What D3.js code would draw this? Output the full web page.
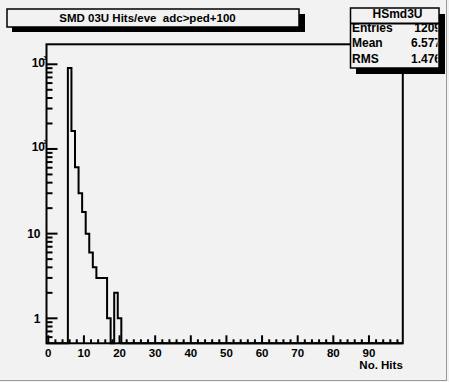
<!DOCTYPE html>
<html><head><meta charset="utf-8">
<script src="https://cdn.jsdelivr.net/npm/d3@7"></script>
<style>
html,body{margin:0;padding:0;background:#f2f2f2;}
text{font-family:"Liberation Sans",Arial,Helvetica,sans-serif;font-weight:bold;fill:#000;white-space:pre;}
</style></head>
<body>
<script>
// ---- data ----
const binCenters = [6,7,8,9,10,11,12,13,14,15,16,17,18,19,20];
const binCounts  = [904,163,61,30,18,10,6,4,3,3,3,1,0,2,1];
const xTicks = [0,10,20,30,40,50,60,70,80,90];
const yMajor = [1,10,100,1000];
const titleText = "SMD 03U Hits/eve  adc>ped+100";
const xTitle = "No. Hits";
const statsName = "HSmd3U";
const statsLabels = ["Entries","Mean","RMS"];
const statsValues = ["1209","6.577","1.476"];
const nBins = 100, xLo = -0.5, xHi = 99.5;

const W = 449, H = 382;
const svg = d3.select("body").append("svg").attr("width",W).attr("height",H);
svg.append("rect").attr("width",W).attr("height",H).attr("fill","#f2f2f2");
// pad bevel
svg.append("line").attr("x1",446.5).attr("x2",446.5).attr("y1",0).attr("y2",381).attr("stroke","#9a9a9a").attr("stroke-width",1);
svg.append("line").attr("x1",0).attr("x2",447).attr("y1",380.5).attr("y2",380.5).attr("stroke","#9a9a9a").attr("stroke-width",1);

const fx0 = 46.5, fx1 = 402.8, fy0 = 44.3, fy1 = 343.3;
const x = d3.scaleLinear().domain([xLo,xHi]).range([fx0,fx1]);
const y = d3.scaleLog().domain([0.507,1722]).range([fy1,fy0]);

// histogram path
const full = d3.range(nBins).map(i => {
  const c = i; const k = binCenters.indexOf(c);
  return {lo:c-0.5, hi:c+0.5, v: k>=0 ? binCounts[k] : 0};
});
const pts = [];
full.forEach(b => {
  const yy = b.v>0 ? y(b.v) : fy1;
  pts.push([x(b.lo), yy]); pts.push([x(b.hi), yy]);
});
svg.append("path").attr("d", d3.line()(pts)).attr("fill","none").attr("stroke","#000").attr("stroke-width",2);

// frame
svg.append("rect").attr("x",fx0).attr("y",fy0).attr("width",fx1-fx0).attr("height",fy1-fy0)
  .attr("fill","none").attr("stroke","#000").attr("stroke-width",2);

// x ticks
const xminor = d3.range(0,100,2);
xminor.forEach(v => {
  const major = v%10===0;
  svg.append("line").attr("x1",x(v)).attr("x2",x(v)).attr("y1",fy1).attr("y2",fy1-(major?8:4))
    .attr("stroke","#000").attr("stroke-width",2);
});
xTicks.forEach(v => {
  svg.append("text").attr("x",x(v)).attr("y",357).attr("text-anchor","middle").attr("font-size",11.5).text(v);
});
svg.append("text").attr("x",fx1).attr("y",369).attr("text-anchor","end").attr("font-size",11.5).text(xTitle);

// y ticks
const yMinor = [];
[0.1,1,10,100,1000].forEach(d => { for(let m=1;m<10;m++){ const v=d*m; if(v>=0.507 && v<=1722) yMinor.push(v);} });
yMinor.forEach(v => {
  const major = yMajor.includes(v);
  svg.append("line").attr("x1",fx0).attr("x2",fx0+(major?11:6)).attr("y1",y(v)).attr("y2",y(v))
    .attr("stroke","#000").attr("stroke-width",2);
});
yMajor.forEach(v => {
  const exp = Math.round(Math.log10(v));
  if (exp <= 1) {
    svg.append("text").attr("x",40.5).attr("y",y(v)+4.5).attr("text-anchor","end").attr("font-size",12).text(v);
  } else {
    svg.append("text").attr("x",45).attr("y",y(v)+2.5).attr("text-anchor","end").attr("font-size",12).text("10");
    svg.append("text").attr("x",43.5).attr("y",y(v)-4.5).attr("font-size",5.5).text(exp);
  }
});

// title box
svg.append("rect").attr("x",12).attr("y",14).attr("width",293).attr("height",18).attr("fill","#000");
svg.append("rect").attr("x",7).attr("y",9).attr("width",292).attr("height",18).attr("fill","#f2f2f2").attr("stroke","#000").attr("stroke-width",1.5);
svg.append("text").attr("x",147.5).attr("y",22).attr("text-anchor","middle").attr("font-size",11.5).text(titleText);

// stats box
svg.append("rect").attr("x",356).attr("y",14).attr("width",89).attr("height",60).attr("fill","#000");
svg.append("rect").attr("x",350.5).attr("y",8).attr("width",88.5).attr("height",60).attr("fill","#f2f2f2").attr("stroke","#000").attr("stroke-width",1.5);
svg.append("clipPath").attr("id","sc").append("rect").attr("x",351).attr("y",8.7).attr("width",86.5).attr("height",58.6);
const sg = svg.append("g").attr("clip-path","url(#sc)");
sg.append("text").attr("x",397.5).attr("y",18).attr("text-anchor","middle").attr("font-size",12).text(statsName);
svg.append("line").attr("x1",350.5).attr("x2",439).attr("y1",23.5).attr("y2",23.5).attr("stroke","#000").attr("stroke-width",2);
statsLabels.forEach((l,i) => {
  const by = [31.5,47,62.5][i];
  sg.append("text").attr("x",352).attr("y",by).attr("font-size",12).text(l);
  sg.append("text").attr("x",441).attr("y",by).attr("text-anchor","end").attr("font-size",12).text(statsValues[i]);
});
</script>
</body></html>
